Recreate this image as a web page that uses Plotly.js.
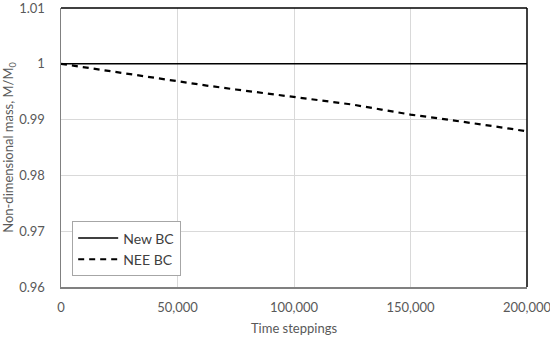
<!DOCTYPE html>
<html>
<head>
<meta charset="utf-8">
<script src="https://cdn.plot.ly/plotly-3.0.1.min.js"></script>
<style>html,body{margin:0;padding:0;background:#fff;}#chart{width:550px;height:339px;}</style>
</head>
<body>
<div id="chart"></div>
<script>
const steps = [0, 12500, 25000, 37500, 50000, 62500, 75000, 87500, 100000, 112500, 125000, 137500, 150000, 162500, 175000, 187500, 200000];
const newBC = [1, 1, 1, 1, 1, 1, 1, 1, 1, 1, 1, 1, 1, 1, 1, 1, 1];
const neeBC = [1.0, 0.9992, 0.9984, 0.9976, 0.9968, 0.9961, 0.9954, 0.9947, 0.9940, 0.9933, 0.9927, 0.9918, 0.9909, 0.9902, 0.9895, 0.9887, 0.9879];
const xTicks = [0, 50000, 100000, 150000, 200000];
const xTickText = ['0', '50,000', '100,000', '150,000', '200,000'];
const yTicks = [0.96, 0.97, 0.98, 0.99, 1, 1.01];
const yTickText = ['0.96', '0.97', '0.98', '0.99', '1', '1.01'];

const font = 'Lato, "Open Sans", sans-serif';
const data = [
  {x: steps, y: newBC, name: 'New BC', mode: 'lines', line: {color: '#000', width: 1.5}},
  {x: steps, y: neeBC, name: 'NEE BC', mode: 'lines', line: {color: '#000', width: 2.2, dash: '6px,5px'}}
];
const layout = {
  width: 550, height: 339,
  margin: {l: 61, r: 23, t: 8, b: 52},
  paper_bgcolor: '#fff', plot_bgcolor: '#fff',
  font: {family: font, color: '#595959', size: 13},
  showlegend: true,
  legend: {x: 0.024, y: 0.235, xanchor: 'left', yanchor: 'top', bordercolor: '#a6a6a6', borderwidth: 1,
           bgcolor: '#fff', font: {family: font, size: 14, color: '#404040'}, tracegroupgap: 6,
           itemwidth: 40, entrywidth: 100},
  xaxis: {range: [0, 200000], tickvals: xTicks, ticktext: xTickText, showgrid: true, gridcolor: '#d9d9d9',
          zeroline: false, showline: true, linecolor: '#808080', linewidth: 1.5, ticks: '',
          ticklabeloverflow: 'allow', ticklabelstandoff: 8,
          title: {text: 'Time steppings', font: {family: font, size: 13, color: '#595959'}, standoff: 10}},
  yaxis: {range: [0.96, 1.01000001], tickvals: yTicks, ticktext: yTickText, showgrid: true, gridcolor: '#d9d9d9',
          zeroline: false, showline: true, linecolor: '#808080', linewidth: 1.5, ticks: '',
          ticklabeloverflow: 'allow', ticklabelstandoff: 12,
          title: {text: 'Non-dimensional mass, M/M<sub>0</sub>', font: {family: font, size: 13, color: '#595959'}, standoff: 8}},
  shapes: [
    {type: 'line', xref: 'paper', yref: 'paper', x0: 0, x1: 1, y0: 1, y1: 1, line: {color: '#000', width: 1.5}},
    {type: 'line', xref: 'paper', yref: 'paper', x0: 1, x1: 1, y0: 0, y1: 1, line: {color: '#000', width: 1.5}}
  ]
};
Plotly.newPlot('chart', data, layout, {displayModeBar: false, staticPlot: true});
</script>
</body>
</html>
